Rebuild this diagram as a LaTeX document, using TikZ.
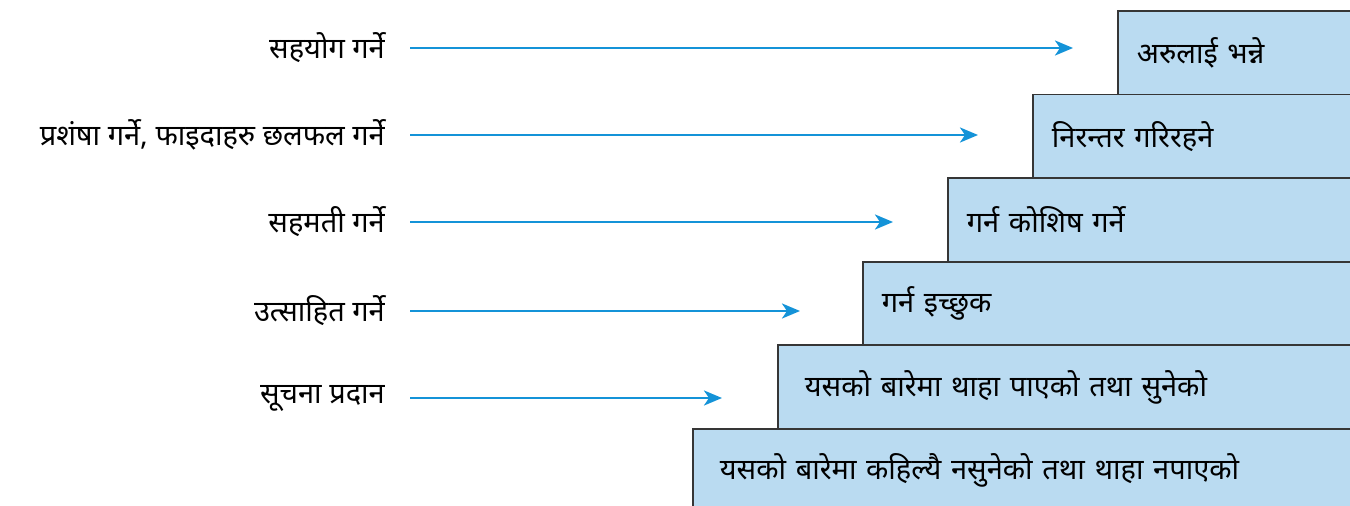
\documentclass[tikz,border=0pt]{standalone}
\usepackage{fontspec}
\newfontfamily\deva[Script=Devanagari]{Noto Sans}
\usetikzlibrary{arrows.meta}
\definecolor{boxfill}{HTML}{BADBF1}
\definecolor{boxline}{HTML}{363636}
\definecolor{arrowblue}{HTML}{1493D8}
\tikzset{
  txt/.style={font=\deva\fontsize{29}{34}\selectfont},
  stair/.style={txt, draw=boxline, line width=1.8pt, fill=boxfill, anchor=north west,
    minimum height=83.6pt, inner xsep=19pt, align=left},
  lefttext/.style={txt, anchor=east, inner sep=0pt},
  arr/.style={draw=arrowblue, line width=2.7pt,
    -{Stealth[length=18pt, width=15pt, inset=5pt]}}
}
\begin{document}
\begin{tikzpicture}[x=1pt, y=-1pt]
\clip (0,0) rectangle (1350,506);
\fill[white] (0,0) rectangle (1350,506);

% stepped boxes, each one wider than the one above
\node[stair, text width=1360-1117-38] (b1) at (1117,10)  {अरुलाई भन्ने};
\node[stair, text width=1360-1032-38] (b2) at (1032,93.6) {निरन्तर गरिरहने};
\node[stair, text width=1360-947-38]  (b3) at (947,177.2) {गर्न कोशिष गर्ने};
\node[stair, text width=1360-862-38]  (b4) at (862,260.8) {गर्न इच्छुक};
\node[stair, text width=1360-777-54, inner xsep=27pt] (b5) at (777,344.4) {यसको बारेमा थाहा पाएको तथा सुनेको};
\node[stair, text width=1360-692-54, inner xsep=27pt] (b6) at (692,428) {यसको बारेमा कहिल्यै नसुनेको तथा थाहा नपाएको};

% labels on the left
\node[lefttext] (l1) at (385,48)  {सहयोग गर्ने};
\node[lefttext] (l2) at (385,135) {प्रशंषा गर्ने, फाइदाहरु छलफल गर्ने};
\node[lefttext] (l3) at (385,222) {सहमती गर्ने};
\node[lefttext] (l4) at (385,311) {उत्साहित गर्ने};
\node[lefttext] (l5) at (385,398) {सूचना प्रदान};

% arrows from each label towards its step
\draw[arr] ([xshift=25pt]l1.east) -- ([xshift=-44pt]l1.east -| b1.west);
\draw[arr] ([xshift=25pt]l2.east) -- ([xshift=-54pt]l2.east -| b2.west);
\draw[arr] ([xshift=25pt]l3.east) -- ([xshift=-54pt]l3.east -| b3.west);
\draw[arr] ([xshift=25pt]l4.east) -- ([xshift=-62pt]l4.east -| b4.west);
\draw[arr] ([xshift=25pt]l5.east) -- ([xshift=-55pt]l5.east -| b5.west);
\end{tikzpicture}
\end{document}
